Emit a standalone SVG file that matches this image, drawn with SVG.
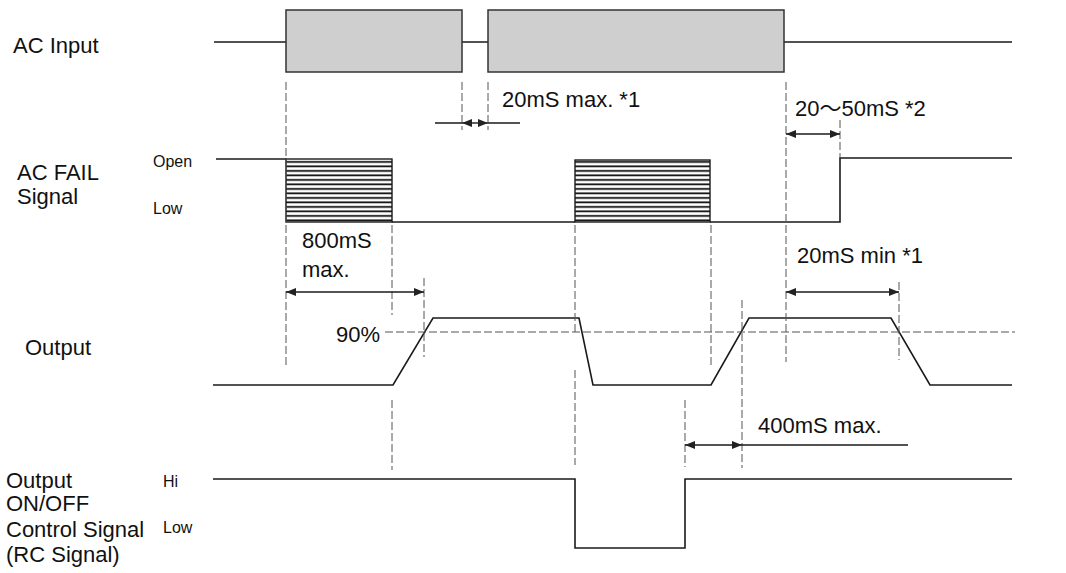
<svg xmlns="http://www.w3.org/2000/svg" width="1066" height="573" viewBox="0 0 1066 573">
<style>
text{font-family:"Liberation Sans","Noto Sans CJK JP",Arial,sans-serif;fill:#111}
.lbl{font-size:22px}
.sm{font-size:16px}
.sig{fill:none;stroke:#1a1a1a;stroke-width:1.6}
.dash{fill:none;stroke:#555;stroke-width:1;stroke-dasharray:8 3}
.arr{fill:none;stroke:#1a1a1a;stroke-width:1.4;marker-start:url(#ah);marker-end:url(#ah)}
.ln{fill:none;stroke:#1a1a1a;stroke-width:1.4}
.box{fill:#cfcfcf;stroke:#333;stroke-width:1.5}
.hatch{fill:url(#hp);stroke:#1a1a1a;stroke-width:1.4}
</style>
<defs>
<marker id="ah" viewBox="0 0 10 8" refX="10" refY="4" markerWidth="10" markerHeight="8" markerUnits="userSpaceOnUse" orient="auto-start-reverse">
<path d="M0,0 L10,4 L0,8 z" fill="#222"/>
</marker>
<pattern id="hp" patternUnits="userSpaceOnUse" x="0" y="159" width="20" height="4.5">
<rect x="0" y="0" width="20" height="4.5" fill="#fff"/>
<rect x="0" y="2" width="20" height="1.8" fill="#111"/>
</pattern>
</defs>

<g id="labels">
<text class="lbl" x="13" y="53">AC Input</text>
<text class="lbl" x="17" y="180">AC FAIL</text>
<text class="lbl" x="17" y="204">Signal</text>
<text class="sm" x="153" y="167">Open</text>
<text class="sm" x="153" y="214">Low</text>
<text class="lbl" x="25" y="355">Output</text>
<text class="lbl" x="6" y="488">Output</text>
<text class="lbl" x="6" y="511">ON/OFF</text>
<text class="lbl" x="6" y="537">Control Signal</text>
<text class="lbl" x="6" y="562">(RC Signal)</text>
<text class="sm" x="163" y="487">Hi</text>
<text class="sm" x="163" y="533">Low</text>
</g>

<g id="ac-input">
<path class="sig" d="M214,42 H286 M462,42 H488 M784,42 H1012"/>
<rect class="box" x="286" y="10" width="176" height="62"/>
<rect class="box" x="488" y="10" width="296" height="62"/>
</g>

<g id="ac-fail">
<path class="sig" d="M216,159 H286 M392,222 H575 M710,222 H840 V158 H1012"/>
<rect class="hatch" x="286" y="159" width="106" height="63"/>
<rect class="hatch" x="575" y="160" width="135" height="62"/>
</g>

<g id="output">
<path class="sig" d="M213,385 H393 L433,318 H579 L593,385 H711 L749,318 H891 L930,385 H1012"/>
</g>

<g id="rc-signal">
<path class="sig" d="M213,479 H575 V548 H685 V479 H1012"/>
</g>

<g id="guides">
<path class="dash" d="M286,82 V368 M462,82 V130 M488,82 V130 M786,82 V362 M840,120 V158 M392,225 V315 M392,400 V470 M424,278 V357 M575,225 V333 M575,370 V465 M711,225 V368 M742,300 V468 M899,282 V360 M685,400 V467 M385,332 H1015"/>
<text class="lbl" x="380" y="342" text-anchor="end">90%</text>
</g>

<g id="connectors">
<path class="ln" d="M435,123 H462 M488,123 H520"/>
<path class="arr" d="M462,123 H488"/>
<path class="arr" d="M786,134 H840"/>
<path class="arr" d="M286,292 H424"/>
<path class="arr" d="M786,292 H899"/>
<path class="arr" d="M685,445 H742"/>
<path class="ln" d="M742,445 H908"/>
</g>

<g id="annotations">
<text class="lbl" x="502" y="107">20mS max. *1</text>
<text class="lbl" x="795" y="116">20～50mS *2</text>
<text class="lbl" x="302" y="248">800mS</text>
<text class="lbl" x="302" y="277">max.</text>
<text class="lbl" x="797" y="263">20mS min *1</text>
<text class="lbl" x="758" y="433">400mS max.</text>
</g>
</svg>
